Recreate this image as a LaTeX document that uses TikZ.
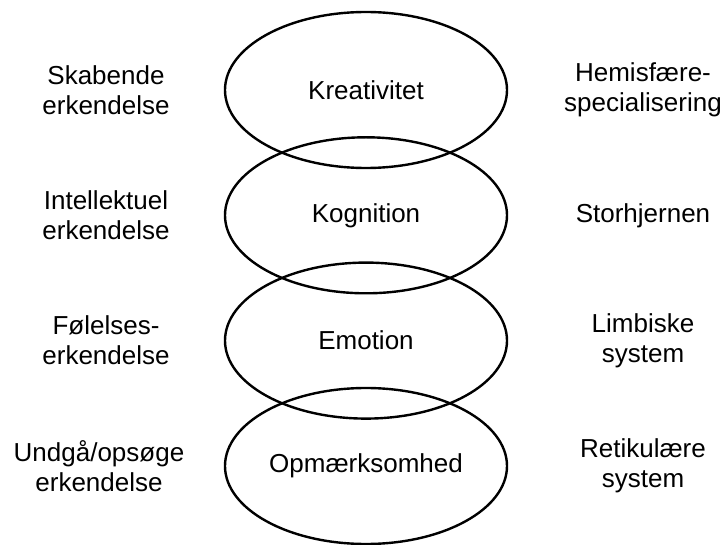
\documentclass[tikz,border=0pt]{standalone}
\usepackage{fontspec}
\setmainfont{Liberation Sans}
\usetikzlibrary{shapes.geometric}
\begin{document}
\begin{tikzpicture}[x=1pt,y=-1pt,
  level/.style={ellipse,draw,line width=2.4pt,minimum width=282pt,minimum height=156pt,inner sep=0pt},
  label/.style={align=center,inner sep=0pt},
  every node/.append style={font=\fontsize{26}{30}\selectfont}]
  \useasboundingbox (0,0) rectangle (726,545);
  % the four overlapping levels, top to bottom
  \node[level] (kre) at (366,90)    {Kreativitet};
  \node[level] (kog) at (366,215.3) {Kognition};
  \node[level] (emo) at (366,340.6) {Emotion};
  \node[level] (opm) at (366,466)   {Opmærksomhed};
  % kinds of insight on the left
  \node[label] (l1) at (106,90)    {Skabende\\erkendelse};
  \node[label] (l2) at (106,215.3) {Intellektuel\\erkendelse};
  \node[label] (l3) at (106,340.6) {Følelses-\\erkendelse};
  \node[label] (l4) at (99,466)    {Undgå/opsøge\\erkendelse};
  % brain structures on the right
  \node[label] (r1) at (643,90)    {Hemisfære-\\specialisering};
  \node[label] (r2) at (643,215.3) {Storhjernen};
  \node[label] (r3) at (643,340.6) {Limbiske\\system};
  \node[label] (r4) at (643,466)   {Retikulære\\system};
\end{tikzpicture}
\end{document}
